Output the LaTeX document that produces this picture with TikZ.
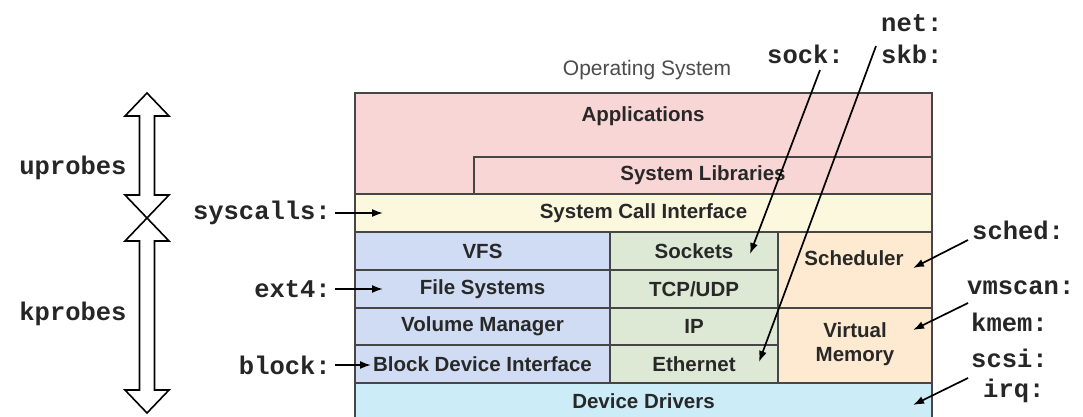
\documentclass[tikz,border=0pt]{standalone}
\usepackage{fontspec}
\setmainfont{Liberation Sans}
\newfontfamily\monob{Liberation Mono}
\usetikzlibrary{arrows.meta}
\definecolor{cpink}{RGB}{249,214,214}
\definecolor{cyel}{RGB}{252,248,222}
\definecolor{cblue}{RGB}{207,220,243}
\definecolor{cgreen}{RGB}{221,233,212}
\definecolor{corange}{RGB}{253,234,208}
\definecolor{ccyan}{RGB}{204,236,248}
\definecolor{cborder}{RGB}{70,70,70}
\definecolor{ctext}{RGB}{40,40,40}
\tikzset{
  layer/.style={draw=cborder, line width=1.5pt, inner sep=0pt, text=ctext,
    font=\bfseries\fontsize{20.5}{24}\selectfont},
  lbl/.style={inner sep=0pt, font=\monob\bfseries\fontsize{25.5}{28}\selectfont, text=black!85},
  arr/.style={line width=1.7pt, -{Latex[length=11pt,width=8pt]}},
  dbl/.style={draw=black, fill=white, line width=1.6pt, line join=miter},
  plain/.style={inner sep=0pt, text=ctext, font=\bfseries\fontsize{20.5}{24}\selectfont}
}
\begin{document}
\begin{tikzpicture}[x=1pt,y=-1pt]
\useasboundingbox[fill=white] (0,0) rectangle (1083,416);
% title
\node[inner sep=0pt, text=black!70, font=\fontsize{21}{24}\selectfont] (os) at (647,70) {Operating System};
% applications
\node[layer, fill=cpink, minimum width=577pt, minimum height=101pt] (appbox) at (643.5,143.5) {};
\node[plain] (apps) at (643,116) {Applications};
\node[layer, fill=cpink, minimum width=458pt, minimum height=37pt] (syslib) at (703,175.5) {System Libraries};
\node[layer, fill=cyel, minimum width=577pt, minimum height=38pt] (sci) at (643.5,213) {System Call Interface};
% left column
\node[layer, fill=cblue, minimum width=255pt, minimum height=38pt] (vfs) at (482.5,251) {VFS};
\node[layer, fill=cblue, minimum width=255pt, minimum height=38pt] (fs) at (482.5,289) {File Systems};
\node[layer, fill=cblue, minimum width=255pt, minimum height=37pt] (vm) at (482.5,326.5) {Volume Manager};
\node[layer, fill=cblue, minimum width=255pt, minimum height=38pt] (bdi) at (482.5,364) {Block Device Interface};
% middle column
\node[layer, fill=cgreen, minimum width=168pt, minimum height=38pt] (sockets) at (694,251) {Sockets};
\node[layer, fill=cgreen, minimum width=168pt, minimum height=38pt] (tcp) at (694,289) {TCP/UDP};
\node[layer, fill=cgreen, minimum width=168pt, minimum height=37pt] (ip) at (694,326.5) {IP};
\node[layer, fill=cgreen, minimum width=168pt, minimum height=38pt] (eth) at (694,364) {Ethernet};
% right column
\node[layer, fill=corange, minimum width=154pt, minimum height=76pt] (schedbox) at (855,270) {};
\node[plain] (schedtxt) at (854,258) {Scheduler};
\node[layer, fill=corange, minimum width=154pt, minimum height=75pt] (vmem) at (855,345.5) {};
\node[plain, align=center] (vmemtxt) at (855,344) {Virtual\\Memory};
% device drivers
\node[layer, fill=ccyan, minimum width=577pt, minimum height=36pt] (dd) at (643.5,401) {Device Drivers};
% double arrows
\draw[dbl] (147,93) -- (169,116) -- (154.5,116) -- (154.5,195) -- (169,195) -- (147,218)
  -- (125,195) -- (139.5,195) -- (139.5,116) -- (125,116) -- cycle;
\draw[dbl] (147,218) -- (169,241) -- (154.5,241) -- (154.5,390) -- (169,390) -- (147,413)
  -- (125,390) -- (139.5,390) -- (139.5,241) -- (125,241) -- cycle;
% left labels
\node[lbl] (uprobes) at (73,168) {uprobes};
\node[lbl] (kprobes) at (73,314) {kprobes};
\node[lbl, anchor=east] (syscalls) at (331,213) {syscalls:};
\node[lbl, anchor=east] (ext4) at (331,289) {ext4:};
\node[lbl, anchor=east] (block) at (331,365) {block:};
\coordinate (sciend) at (383,213);
\coordinate (fsend) at (383,289);
\coordinate (bdiend) at (371,365);
\draw[arr] (syscalls.east) ++(4,0) -- (sciend);
\draw[arr] (ext4.east) ++(4,0) -- (fsend);
\draw[arr] (block.east) ++(4,0) -- (bdiend);
% top labels
\node[lbl, anchor=west] (net) at (881,23) {net:};
\node[lbl, anchor=west] (sock) at (767,54) {sock:};
\node[lbl, anchor=west] (skb) at (881,54) {skb:};
\coordinate (sockstart) at (820,70);
\coordinate (sockend) at (750,254);
\coordinate (skbstart) at (876,46);
\coordinate (skbend) at (759,362);
\draw[arr] (sockstart) -- (sockend);
\draw[arr] (skbstart) -- (skbend);
% right labels
\node[lbl, anchor=west] (sched) at (972,230) {sched:};
\node[lbl, anchor=west] (vmscan) at (967,288) {vmscan:};
\node[lbl, anchor=west] (kmem) at (971,322) {kmem:};
\node[lbl, anchor=west] (scsi) at (971,358) {scsi:};
\node[lbl, anchor=west] (irq) at (983,391) {irq:};
\coordinate (schedstart) at (968,240);
\coordinate (schedend) at (913,268);
\coordinate (vmstart) at (968,303);
\coordinate (vmend) at (913,330);
\coordinate (scsistart) at (968,378);
\coordinate (scsiend) at (913,405);
\draw[arr] (schedstart) -- (schedend);
\draw[arr] (vmstart) -- (vmend);
\draw[arr] (scsistart) -- (scsiend);
\end{tikzpicture}
\end{document}
